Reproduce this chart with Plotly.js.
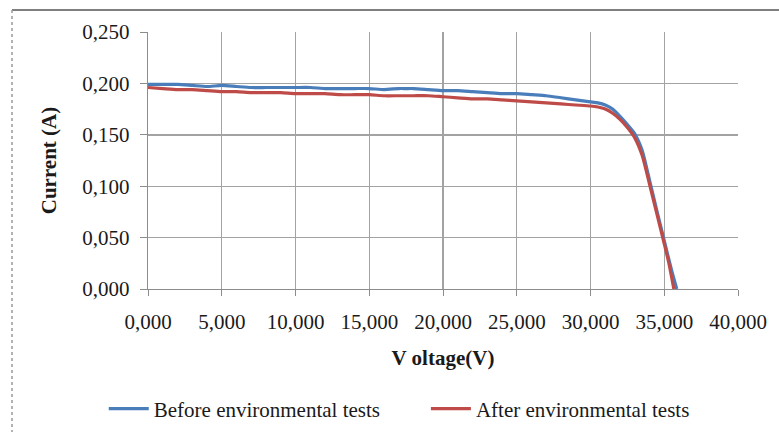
<!DOCTYPE html>
<html>
<head>
<meta charset="utf-8">
<script src="https://cdn.plot.ly/plotly-3.0.1.min.js"></script>
<style>html,body{margin:0;padding:0;background:#fff;}#chart{width:779px;height:432px;}</style>
</head>
<body>
<div id="chart"></div>
<script>
// Voltage (V) and current (A) readings
const voltageBefore = [0, 1, 2, 3, 4, 5, 6, 7, 8, 9, 10, 11, 12, 13, 14, 15, 16, 17, 17.5, 18, 19, 20, 21, 22, 23, 24, 25, 26, 27, 28, 29, 30, 30.5, 31, 31.5, 32, 32.5, 33, 33.5, 34, 34.5, 35, 35.5, 35.85];
const currentBefore = [0.199, 0.199, 0.199, 0.198, 0.197, 0.198, 0.197, 0.196, 0.196, 0.196, 0.196, 0.196, 0.195, 0.195, 0.195, 0.195, 0.194, 0.195, 0.195, 0.195, 0.194, 0.193, 0.193, 0.192, 0.191, 0.190, 0.190, 0.189, 0.188, 0.186, 0.184, 0.182, 0.181, 0.179, 0.175, 0.168, 0.160, 0.151, 0.135, 0.106, 0.076, 0.047, 0.018, 0.000];
const voltageAfter = [0, 1, 2, 3, 4, 5, 6, 7, 8, 9, 10, 11, 12, 13, 14, 15, 16, 17, 18, 19, 20, 21, 22, 23, 24, 25, 26, 27, 28, 29, 30, 30.5, 31, 31.5, 32, 32.5, 33, 33.5, 34, 34.5, 35, 35.3, 35.65];
const currentAfter = [0.196, 0.195, 0.194, 0.194, 0.193, 0.192, 0.192, 0.191, 0.191, 0.191, 0.190, 0.190, 0.190, 0.189, 0.189, 0.189, 0.188, 0.188, 0.188, 0.188, 0.187, 0.186, 0.185, 0.185, 0.184, 0.183, 0.182, 0.181, 0.180, 0.179, 0.178, 0.177, 0.175, 0.171, 0.165, 0.157, 0.147, 0.130, 0.102, 0.073, 0.044, 0.026, 0.000];
const seriesNames = ["Before environmental tests", "After environmental tests"];
const seriesColors = ["#4a7ebb", "#be4b48"];

const font = "Liberation Serif, Times New Roman, serif";
const traces = [
  {x: voltageBefore, y: currentBefore, name: seriesNames[0], mode: "lines", legend: "legend",
   line: {color: seriesColors[0], width: 3.2, shape: "spline", smoothing: 0.6}},
  {x: voltageAfter, y: currentAfter, name: seriesNames[1], mode: "lines", legend: "legend2",
   line: {color: seriesColors[1], width: 3.2, shape: "spline", smoothing: 0.6}}
];
const legendFont = {family: font, size: 21, color: "#1a1a1a"};
const layout = {
  width: 779, height: 432,
  margin: {l: 148, r: 41, t: 32, b: 143, autoexpand: false},
  paper_bgcolor: "#ffffff", plot_bgcolor: "#ffffff",
  separators: ", ",
  font: {family: font, size: 21, color: "#1a1a1a"},
  showlegend: true,
  legend: {orientation: "h", x: -0.075, xanchor: "left", y: -0.467, yanchor: "middle",
           font: legendFont, itemwidth: 40, bgcolor: "rgba(0,0,0,0)"},
  legend2: {orientation: "h", x: 0.471, xanchor: "left", y: -0.467, yanchor: "middle",
           font: legendFont, itemwidth: 40, bgcolor: "rgba(0,0,0,0)"},
  xaxis: {range: [0, 40], dtick: 5, tick0: 0, tickformat: ".3f", fixedrange: true,
          showgrid: true, gridcolor: "#a3a3a3", gridwidth: 1.4,
          showline: true, linecolor: "#8c8c8c", linewidth: 1.4,
          ticks: "outside", ticklen: 6, tickcolor: "#8c8c8c", ticklabelstandoff: 7,
          zeroline: false,
          title: {text: "<b>V oltage(V)</b>", font: {family: font, size: 21, color: "#1a1a1a"}, standoff: 17}},
  yaxis: {range: [0, 0.25], dtick: 0.05, tick0: 0, tickformat: ".3f", fixedrange: true,
          showgrid: true, gridcolor: "#a3a3a3", gridwidth: 1.4,
          showline: true, linecolor: "#8c8c8c", linewidth: 1.4,
          ticks: "outside", ticklen: 7, tickcolor: "#8c8c8c", ticklabelstandoff: 6,
          zeroline: false,
          title: {text: "<b>Current (A)</b>", font: {family: font, size: 21, color: "#1a1a1a"}, standoff: 20}},
  shapes: [
    {type: "line", xref: "paper", yref: "paper", x0: -0.2305, x1: 1.2, y0: 1.0856, y1: 1.0856,
     line: {color: "#7f7f7f", width: 2}},
    {type: "line", xref: "paper", yref: "paper", x0: -0.2305, x1: -0.2305, y0: 1.0856, y1: -0.7,
     line: {color: "#9a9a9a", width: 1.5, dash: "dot"}}
  ]
};
Plotly.newPlot("chart", traces, layout, {displayModeBar: false, staticPlot: true});
</script>
</body>
</html>
